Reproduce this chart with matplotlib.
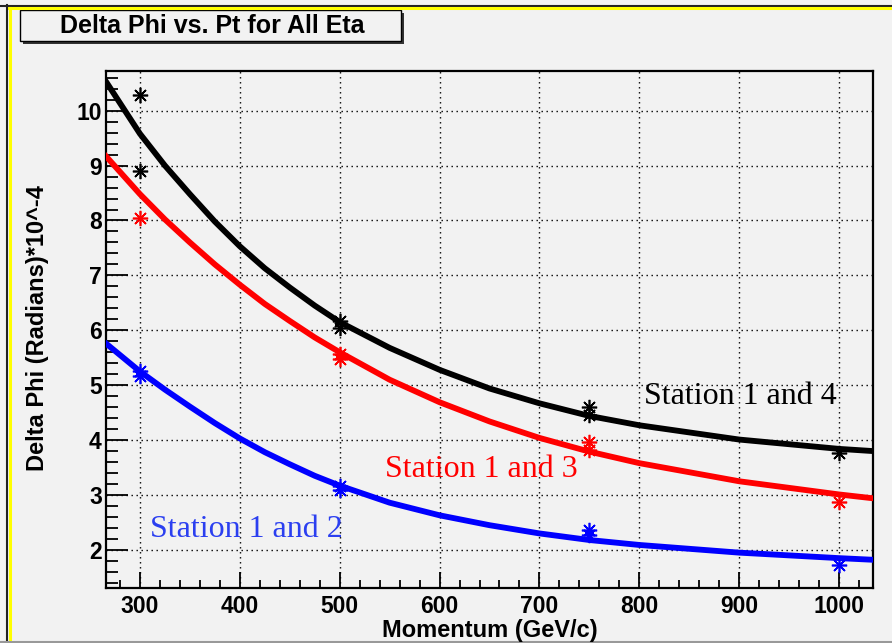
import matplotlib
matplotlib.use('Agg')
import matplotlib.pyplot as plt
from matplotlib.patches import Rectangle
from matplotlib.lines import Line2D
from matplotlib.ticker import MultipleLocator

# ---------------- data ----------------
x_curve = [266, 300, 325, 350, 375, 400, 425, 450, 475, 500, 550, 600, 650, 700, 750, 800,
           900, 1000, 1034]
y_st14_curve = [10.53, 9.58, 9.00, 8.48, 7.98, 7.53, 7.13, 6.78, 6.45, 6.15, 5.68, 5.28,
                4.94, 4.67, 4.44, 4.27, 4.01, 3.84, 3.80]
y_st13_curve = [9.17, 8.48, 8.02, 7.60, 7.20, 6.83, 6.48, 6.17, 5.87, 5.60, 5.10, 4.69,
                4.34, 4.04, 3.79, 3.58, 3.25, 3.01, 2.94]
y_st12_curve = [5.76, 5.25, 4.92, 4.61, 4.31, 4.03, 3.78, 3.56, 3.35, 3.17, 2.86, 2.63,
                2.45, 2.30, 2.18, 2.09, 1.95, 1.85, 1.82]

x_st14_pts = [300, 300, 500, 500, 750, 750, 1000]
y_st14_pts = [10.28, 8.91, 6.17, 6.04, 4.61, 4.45, 3.77]
x_st13_pts = [300, 500, 500, 750, 750, 1000]
y_st13_pts = [8.05, 5.56, 5.48, 3.96, 3.82, 2.88]
x_st12_pts = [300, 300, 500, 500, 750, 750, 1000]
y_st12_pts = [5.25, 5.17, 3.16, 3.10, 2.36, 2.27, 1.73]

labels = ["Station 1 and 4", "Station 1 and 3", "Station 1 and 2"]
title = "Delta Phi vs. Pt for All Eta"
xlabel = "Momentum (GeV/c)"
ylabel = "Delta Phi (Radians)*10^-4"

# ---------------- figure ----------------
W, H = 892, 643
BG = '#f2f2f2'
fig = plt.figure(figsize=(W / 100, H / 100), dpi=100, facecolor=BG)

# outer frame (screen border + yellow line)
def fline(x0, y0, x1, y1, color, lw):
    fig.add_artist(Line2D([x0 / W, x1 / W], [1 - y0 / H, 1 - y1 / H],
                          transform=fig.transFigure, color=color, lw=lw))

fline(0, 5.5, W, 5.5, '#222222', 1.5)
fline(8, 8, W, 8, '#ffff00', 2.2)
fline(7, 5, 7, H, '#222222', 1.5)
fline(10, 8, 10, H, '#ffff00', 2.2)
fline(0, H - 1.5, W, H - 1.5, '#999999', 1.5)

ax = fig.add_axes([106 / W, 1 - 588 / H, (873 - 106) / W, (588 - 71) / H])
ax.set_facecolor(BG)
ax.set_xlim(266, 1034)
ax.set_ylim(1.306, 10.723)

ax.xaxis.set_major_locator(MultipleLocator(100))
ax.xaxis.set_minor_locator(MultipleLocator(20))
ax.yaxis.set_major_locator(MultipleLocator(1))
ax.yaxis.set_minor_locator(MultipleLocator(0.2))
ax.set_xticks([300, 400, 500, 600, 700, 800, 900, 1000])
ax.set_yticks([2, 3, 4, 5, 6, 7, 8, 9, 10])

ax.grid(True, which='major', color='black', linestyle=(0, (1, 2.6)), linewidth=1.0)
ax.set_axisbelow(True)

ax.tick_params(axis='x', which='major', direction='in', length=11.5, width=1.3,
               bottom=True, top=False, pad=5)
ax.tick_params(axis='x', which='minor', direction='in', length=5.8, width=1.3,
               bottom=True, top=False)
ax.tick_params(axis='y', which='major', direction='in', length=15.5, width=1.3,
               left=True, right=False, pad=3)
ax.tick_params(axis='y', which='minor', direction='in', length=8.5, width=1.3,
               left=True, right=False)
for lab in ax.get_xticklabels() + ax.get_yticklabels():
    lab.set_fontfamily('Liberation Sans')
    lab.set_fontweight('bold')
    lab.set_fontsize(16.5)
for sp in ax.spines.values():
    sp.set_linewidth(1.6)
    sp.set_color('black')

# curves
ax.plot(x_curve, y_st14_curve, color='black', lw=4.2, solid_joinstyle='round', zorder=3)
ax.plot(x_curve, y_st13_curve, color='#ff0000', lw=4.2, solid_joinstyle='round', zorder=3)
ax.plot(x_curve, y_st12_curve, color='#0000ff', lw=4.2, solid_joinstyle='round', zorder=3)

# points (asterisk markers)
mk = dict(marker=(8, 2, 0), linestyle='none', markersize=11, markeredgewidth=1.2, zorder=4,
          clip_on=False)
ax.plot(x_st14_pts, y_st14_pts, color='black', **mk)
ax.plot(x_st13_pts, y_st13_pts, color='#ff0000', **mk)
ax.plot(x_st12_pts, y_st12_pts, color='#0000ff', **mk)

# series labels
ax.text(805, 4.79, labels[0], color='black', fontsize=23, family='Liberation Serif',
        ha='left', va='center', zorder=5)
ax.text(545, 3.46, labels[1], color='#ff0000', fontsize=23, family='Liberation Serif',
        ha='left', va='center', zorder=5)
ax.text(310, 2.37, labels[2], color='#2b3ff0', fontsize=23, family='Liberation Serif',
        ha='left', va='center', zorder=5)

# axis titles
fig.text(489.5 / W, 1 - 631 / H, xlabel, ha='center', va='center', fontsize=17,
         fontweight='bold', family='Liberation Sans')
fig.text(38 / W, 1 - 328 / H, ylabel, ha='center', va='center', rotation=90,
         fontsize=17, fontweight='bold', family='Liberation Sans')

# title box with shadow
bx0, by0, bx1, by1 = 20, 10, 401, 41
fig.add_artist(Rectangle(((bx0 + 3) / W, 1 - (by1 + 3) / H), (bx1 - bx0) / W, (by1 - by0) / H,
                         transform=fig.transFigure, facecolor='#333333', edgecolor='none'))
fig.add_artist(Rectangle((bx0 / W, 1 - by1 / H), (bx1 - bx0) / W, (by1 - by0) / H,
                         transform=fig.transFigure, facecolor=BG, edgecolor='black', lw=1.0))
fig.text((bx0 + bx1) / 2 / W + 0.002, 1 - 26 / H, title, ha='center', va='center', fontsize=18,
         fontweight='bold', family='Liberation Sans')

fig.savefig('out.png', dpi=100, facecolor=BG)
